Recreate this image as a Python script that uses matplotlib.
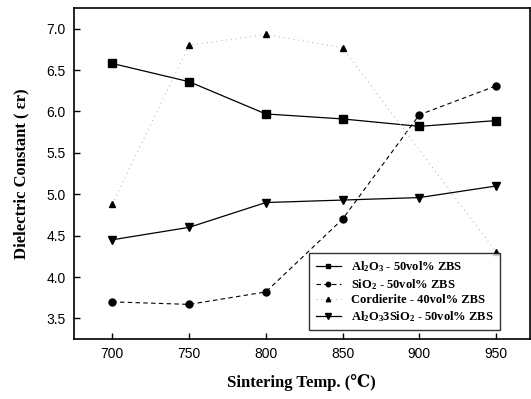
import matplotlib
matplotlib.use("Agg")
import matplotlib.pyplot as plt

plt.rcParams["mathtext.fontset"] = "custom"
plt.rcParams["mathtext.rm"] = "Liberation Serif:bold"
plt.rcParams["mathtext.default"] = "rm"

# ---------------------------------------------------------------------------
# Data
# ---------------------------------------------------------------------------
temps = [700, 750, 800, 850, 900, 950]
al2o3 = [6.58, 6.36, 5.97, 5.91, 5.82, 5.89]
sio2 = [3.70, 3.67, 3.82, 4.70, 5.96, 6.31]
cord_temps = [700, 750, 800, 850, 950]
cordierite = [4.88, 6.80, 6.93, 6.77, 4.30]
mullite = [4.45, 4.60, 4.90, 4.93, 4.96, 5.10]

labels = [
    "Al$_2$O$_3$ - 50vol% ZBS",
    "SiO$_2$ - 50vol% ZBS",
    "Cordierite - 40vol% ZBS",
    "Al$_2$O$_3$3SiO$_2$ - 50vol% ZBS",
]

SERIF = ["Liberation Serif", "DejaVu Serif", "DejaVu Sans"]

fig = plt.figure(figsize=(5.31, 3.99), dpi=100)
ax = fig.add_axes([0.139, 0.150, 0.859, 0.830])

ax.plot(temps, al2o3, color="black", lw=0.9, marker="s", ms=5.5, label=labels[0])
ax.plot(temps, sio2, color="black", lw=0.8, ls=(0, (4, 3)), marker="o", ms=5,
        label=labels[1])
ax.plot(cord_temps, cordierite, color="#aaaaaa", lw=0.7, ls=(0, (1, 4)),
        marker="^", ms=5, mfc="black", mec="black", label=labels[2])
ax.plot(temps, mullite, color="black", lw=0.9, marker="v", ms=6, label=labels[3])

ax.set_xlim(675, 972)
ax.set_ylim(3.25, 7.25)
ax.set_xticks(temps)
ax.set_yticks([3.5, 4.0, 4.5, 5.0, 5.5, 6.0, 6.5, 7.0])
ax.set_yticklabels(["3.5", "4.0", "4.5", "5.0", "5.5", "6.0", "6.5", "7.0"])

ax.tick_params(direction="in", length=4, width=1, labelsize=10, pad=6)
for lab in ax.get_xticklabels() + ax.get_yticklabels():
    lab.set_family("Liberation Sans")
for spine in ax.spines.values():
    spine.set_linewidth(1.2)

ax.set_xlabel("Sintering Temp. (\u2103)", family=SERIF, fontweight="bold",
              fontsize=12, labelpad=9)
ax.set_ylabel("Dielectric Constant ( \u03b5r)", family=SERIF, fontweight="bold",
              fontsize=12, labelpad=12)

leg = ax.legend(loc="lower right", bbox_to_anchor=(0.947, 0.008), frameon=True,
                fancybox=False, edgecolor="black", markerscale=0.65,
                handlelength=2.0, labelspacing=0.22, borderpad=0.5,
                prop={"family": SERIF, "weight": "bold", "size": 9})
leg.get_frame().set_linewidth(1.0)

fig.savefig("out.png", dpi=100, facecolor="white")
